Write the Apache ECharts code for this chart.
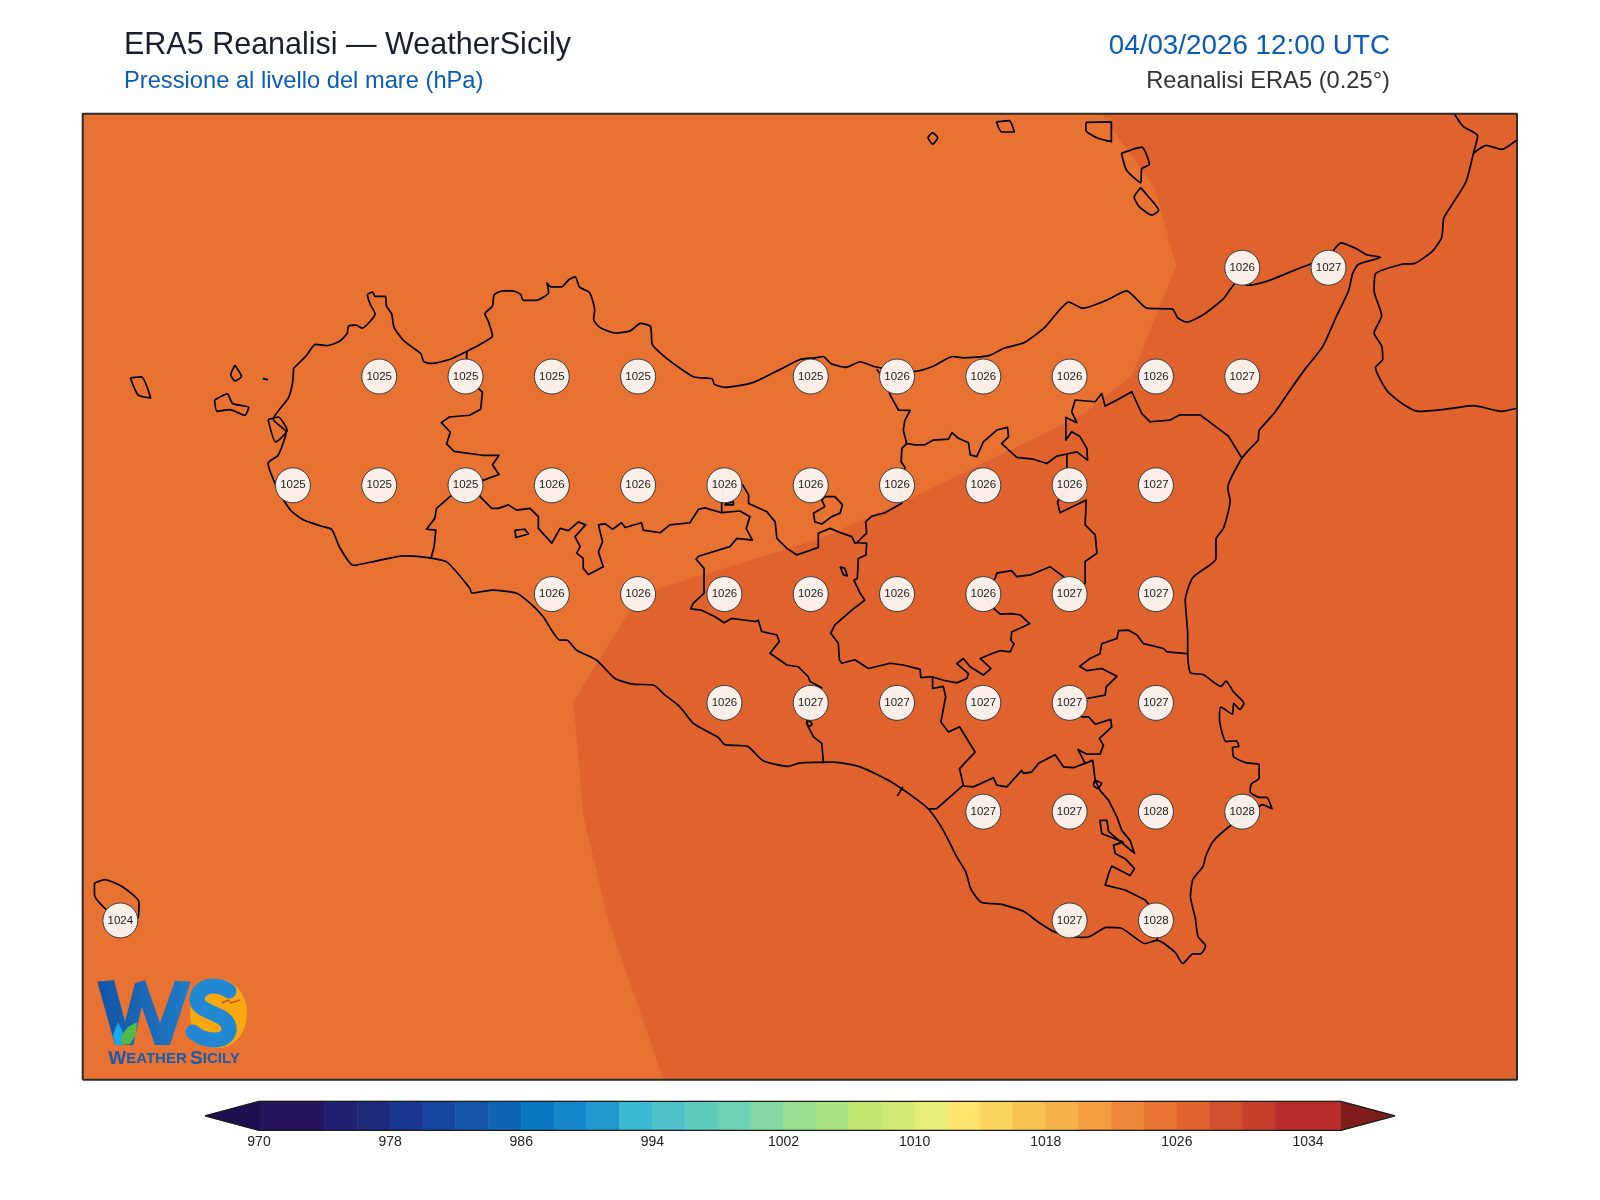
<!DOCTYPE html>
<html>
<head>
<meta charset="utf-8">
<title>ERA5 Reanalisi</title>
<script src="https://cdn.jsdelivr.net/npm/echarts@6/dist/echarts.min.js"></script>
<style>
  html, body { margin: 0; background: #fff; }
  #chart { width: 1600px; height: 1200px; }
</style>
</head>
<body>
<div id="chart"></div>
<script>
// map window, degrees
const lonMin = 11.891, lonMax = 16.046, latMin = 36.384, latMax = 38.604

// grid point labels (0.25 deg), row by row
const stationLon = [
  15.25, 15.5,
  12.75, 13, 13.25, 13.5, 14, 14.25, 14.5, 14.75, 15, 15.25,
  12.5, 12.75, 13, 13.25, 13.5, 13.75, 14, 14.25, 14.5, 14.75, 15,
  13.25, 13.5, 13.75, 14, 14.25, 14.5, 14.75, 15,
  13.75, 14, 14.25, 14.5, 14.75, 15,
  14.5, 14.75, 15, 15.25,
  12, 14.75, 15
]
const stationLat = [
  38.25, 38.25,
  38, 38, 38, 38, 38, 38, 38, 38, 38, 38,
  37.75, 37.75, 37.75, 37.75, 37.75, 37.75, 37.75, 37.75, 37.75, 37.75, 37.75,
  37.5, 37.5, 37.5, 37.5, 37.5, 37.5, 37.5, 37.5,
  37.25, 37.25, 37.25, 37.25, 37.25, 37.25,
  37, 37, 37, 37,
  36.75, 36.75, 36.75
]
const stationHpa = [
  1026, 1027,
  1025, 1025, 1025, 1025, 1025, 1026, 1026, 1026, 1026, 1027,
  1025, 1025, 1025, 1026, 1026, 1026, 1026, 1026, 1026, 1026, 1027,
  1026, 1026, 1026, 1026, 1026, 1026, 1027, 1027,
  1026, 1027, 1027, 1027, 1027, 1027,
  1027, 1027, 1028, 1028,
  1024, 1027, 1028
]

// colorbar
const colorLevels = [970, 974, 976, 978, 980, 982, 984, 986, 988, 990, 992, 994, 996, 998, 1000, 1002,
  1004, 1006, 1008, 1010, 1012, 1014, 1016, 1018, 1020, 1022, 1024, 1026, 1028, 1030, 1032, 1036]
const levelColors = ['#25135b', '#201f70', '#1c2a7c', '#18358f', '#1646a0', '#1355ab', '#1064b8', '#0b76c4',
  '#1687cc', '#2398ce', '#3cb9d2', '#4ec1c9', '#5ecbbf', '#6dd2b5', '#82d9a4', '#97df8e', '#a8e37d', '#bee66e',
  '#d3ea72', '#e4ed74', '#fce46c', '#fcd45f', '#f8c353', '#f6b24a', '#f29d40', '#ee873a', '#e87231', '#e0622d',
  '#d2502b', '#c63d2a', '#b92a2a']
const tickValues = [970, 978, 986, 994, 1002, 1010, 1018, 1026, 1034]
const arrowUnder = [[970, 0], [966.705, 0.5], [970, 1]]
const arrowOver = [[1036, 0], [1039.31, 0.5], [1036, 1]]

// filled pressure band boundary, 1024-1026 to 1026-1028
const isobar1026 = [[13.573, 36.384], [13.499, 36.554], [13.411, 36.756], [13.34, 36.994], [13.329, 37.099],
  [13.312, 37.253], [13.472, 37.459], [13.559, 37.513], [14.027, 37.628], [14.278, 37.716], [14.587, 37.835],
  [14.79, 37.915], [14.93, 38.003], [15.058, 38.254], [14.996, 38.433], [14.841, 38.604]]

// sicily coastline, clockwise from Trapani
const sicilyCoast = [[12.502, 38.019], [12.539, 38.048], [12.565, 38.074], [12.598, 38.071], [12.635, 38.081],
  [12.657, 38.099], [12.661, 38.116], [12.682, 38.118], [12.701, 38.111], [12.724, 38.127], [12.738, 38.144],
  [12.724, 38.166], [12.716, 38.188], [12.731, 38.194], [12.738, 38.184], [12.768, 38.184], [12.771, 38.162],
  [12.786, 38.144], [12.793, 38.113], [12.82, 38.083], [12.857, 38.061], [12.871, 38.052], [12.879, 38.034],
  [12.901, 38.03], [12.953, 38.039], [13.004, 38.058], [13.049, 38.077], [13.078, 38.093], [13.066, 38.127],
  [13.056, 38.144], [13.078, 38.162], [13.083, 38.188], [13.108, 38.197], [13.137, 38.197], [13.16, 38.188],
  [13.167, 38.175], [13.204, 38.175], [13.241, 38.193], [13.236, 38.215], [13.248, 38.206], [13.278, 38.206],
  [13.3, 38.223], [13.318, 38.229], [13.33, 38.206], [13.359, 38.193], [13.374, 38.153], [13.371, 38.131],
  [13.389, 38.113], [13.433, 38.1], [13.477, 38.105], [13.507, 38.122], [13.536, 38.115], [13.541, 38.074],
  [13.573, 38.048], [13.618, 38.021], [13.662, 37.999], [13.714, 37.995], [13.721, 37.982], [13.751, 37.975],
  [13.832, 37.986], [13.913, 38.017], [13.969, 38.039], [14.013, 38.043], [14.036, 38.046], [14.058, 38.03],
  [14.102, 38.021], [14.143, 38.034], [14.183, 38.023], [14.25, 38.014], [14.302, 38.012], [14.353, 38.023],
  [14.412, 38.046], [14.442, 38.043], [14.516, 38.048], [14.56, 38.065], [14.619, 38.078], [14.678, 38.113],
  [14.748, 38.171], [14.789, 38.157], [14.856, 38.175], [14.915, 38.197], [14.974, 38.157], [15.048, 38.155],
  [15.063, 38.135], [15.089, 38.125], [15.137, 38.142], [15.196, 38.179], [15.233, 38.215], [15.27, 38.21],
  [15.329, 38.221], [15.403, 38.245], [15.499, 38.276], [15.536, 38.307], [15.58, 38.294], [15.61, 38.28],
  [15.651, 38.274], [15.587, 38.258], [15.57, 38.237], [15.558, 38.197], [15.521, 38.135], [15.484, 38.07],
  [15.432, 38.017], [15.388, 37.968], [15.343, 37.916], [15.299, 37.876], [15.296, 37.854], [15.27, 37.832],
  [15.247, 37.81], [15.208, 37.744], [15.215, 37.714], [15.196, 37.652], [15.174, 37.626], [15.174, 37.582],
  [15.107, 37.538], [15.085, 37.486], [15.092, 37.407], [15.092, 37.363], [15.1, 37.319], [15.137, 37.315],
  [15.188, 37.288], [15.203, 37.3], [15.225, 37.275], [15.255, 37.249], [15.243, 37.235], [15.225, 37.249],
  [15.222, 37.224], [15.188, 37.24], [15.184, 37.214], [15.203, 37.161], [15.233, 37.163], [15.24, 37.15],
  [15.222, 37.148], [15.225, 37.126], [15.262, 37.112], [15.299, 37.108], [15.299, 37.077], [15.277, 37.064],
  [15.273, 37.046], [15.299, 37.033], [15.321, 37.033], [15.336, 37.007], [15.307, 37.016], [15.284, 36.998],
  [15.249, 36.985], [15.208, 36.963], [15.166, 36.932], [15.144, 36.897], [15.137, 36.875], [15.107, 36.844],
  [15.1, 36.805], [15.114, 36.756], [15.122, 36.713], [15.144, 36.691], [15.129, 36.673], [15.107, 36.673],
  [15.078, 36.651], [15.055, 36.677], [15.004, 36.704], [14.967, 36.697], [14.937, 36.712], [14.9, 36.732],
  [14.856, 36.734], [14.826, 36.721], [14.804, 36.712], [14.782, 36.711], [14.708, 36.723], [14.656, 36.748],
  [14.619, 36.77], [14.553, 36.787], [14.494, 36.792], [14.464, 36.822], [14.449, 36.862], [14.423, 36.896],
  [14.384, 36.957], [14.341, 37.006], [14.297, 37.034], [14.225, 37.072], [14.143, 37.103], [14.066, 37.114],
  [13.969, 37.112], [13.935, 37.104], [13.862, 37.117], [13.817, 37.15], [13.751, 37.154], [13.733, 37.17],
  [13.66, 37.203], [13.621, 37.241], [13.578, 37.268], [13.544, 37.291], [13.486, 37.293], [13.433, 37.306],
  [13.38, 37.348], [13.322, 37.371], [13.293, 37.394], [13.274, 37.394], [13.225, 37.448], [13.187, 37.479],
  [13.148, 37.502], [13.076, 37.509], [13.018, 37.502], [13.013, 37.513], [12.945, 37.574], [12.868, 37.586],
  [12.82, 37.588], [12.746, 37.577], [12.675, 37.566], [12.635, 37.608], [12.613, 37.648],
  [12.583, 37.656], [12.531, 37.67], [12.494, 37.692], [12.462, 37.731], [12.428, 37.801], [12.457, 37.819],
  [12.48, 37.872], [12.443, 37.902], [12.487, 37.951], [12.499, 37.986], [12.502, 38.019]]

// calabria
const calabriaCoast = [[15.864, 38.604], [15.89, 38.575], [15.932, 38.553], [15.92, 38.513], [15.898, 38.447],
  [15.861, 38.399], [15.834, 38.364], [15.828, 38.32], [15.802, 38.289], [15.75, 38.26], [15.713, 38.258],
  [15.636, 38.236], [15.632, 38.197], [15.654, 38.14], [15.632, 38.1], [15.654, 38.07], [15.657, 38.039],
  [15.636, 38.021], [15.669, 37.968], [15.713, 37.938], [15.76, 37.92], [15.831, 37.924], [15.92, 37.933],
  [16.001, 37.92], [16.046, 37.927]]
const calabriaBorder = [[15.92, 38.513], [15.957, 38.531], [16.001, 38.522], [16.046, 38.544]]

// islands
const marettimo = [[12.029, 37.997], [12.061, 37.999], [12.088, 37.951], [12.051, 37.958], [12.029, 37.997]]
const favignana = [[12.273, 37.946], [12.31, 37.96], [12.325, 37.938], [12.372, 37.929], [12.361, 37.911],
  [12.317, 37.924], [12.28, 37.92], [12.273, 37.946]]
const levanzo = [[12.332, 38.026], [12.351, 38], [12.332, 37.99], [12.32, 38.004], [12.332, 38.026]]
const formica = [[12.413, 37.995], [12.428, 37.993]]
const stagnone = [[12.428, 37.901], [12.457, 37.907], [12.483, 37.876], [12.45, 37.85], [12.428, 37.901]]
const pantelleria = [[11.925, 36.836], [11.955, 36.844], [12.007, 36.827], [12.054, 36.792], [12.051, 36.756],
  [12, 36.752], [11.955, 36.778], [11.925, 36.809], [11.925, 36.836]]
const ustica = [[14.339, 38.549], [14.353, 38.56], [14.368, 38.549], [14.353, 38.534], [14.339, 38.549]]
const alicudi = [[14.538, 38.585], [14.575, 38.588], [14.59, 38.562], [14.553, 38.562], [14.538, 38.585]]
const filicudi = [[14.797, 38.584], [14.871, 38.585], [14.871, 38.54], [14.834, 38.547], [14.797, 38.566],
  [14.797, 38.584]]
const lipari = [[14.9, 38.513], [14.959, 38.527], [14.981, 38.487], [14.959, 38.478], [14.956, 38.445],
  [14.915, 38.474], [14.9, 38.513]]
const vulcano = [[14.956, 38.434], [14.974, 38.417], [15.008, 38.382], [14.989, 38.371], [14.952, 38.39],
  [14.937, 38.412], [14.956, 38.434]]

// province borders
const borderTrapani = [[13.004, 38.058], [13, 38], [13.049, 37.964], [13.044, 37.925], [13.012, 37.911],
  [12.953, 37.907], [12.93, 37.894], [12.956, 37.872], [12.945, 37.845], [12.967, 37.828], [13.049, 37.819],
  [13.097, 37.819], [13.078, 37.797], [13.097, 37.775], [13.052, 37.762], [13, 37.751], [12.955, 37.724],
  [12.916, 37.697], [12.911, 37.674], [12.887, 37.649], [12.914, 37.647], [12.909, 37.609], [12.9, 37.582]]
const borderAgrigento = [[13.03, 37.755], [13.042, 37.724], [13.076, 37.697], [13.095, 37.697], [13.124, 37.705], [13.148, 37.693],
  [13.187, 37.697], [13.211, 37.678], [13.211, 37.651], [13.25, 37.617], [13.274, 37.651], [13.298, 37.646],
  [13.327, 37.666], [13.348, 37.659], [13.317, 37.632], [13.332, 37.609], [13.322, 37.594], [13.341, 37.582],
  [13.341, 37.559], [13.356, 37.545], [13.399, 37.563], [13.385, 37.597], [13.397, 37.62], [13.385, 37.659],
  [13.404, 37.662], [13.426, 37.649], [13.452, 37.664], [13.462, 37.653], [13.51, 37.664], [13.515, 37.647],
  [13.564, 37.641], [13.592, 37.659], [13.65, 37.664], [13.675, 37.695], [13.694, 37.698], [13.742, 37.687],
  [13.795, 37.691], [13.824, 37.678], [13.813, 37.651], [13.831, 37.624], [13.786, 37.628], [13.766, 37.609],
  [13.675, 37.587], [13.668, 37.58], [13.691, 37.559], [13.691, 37.502], [13.66, 37.479], [13.652, 37.466],
  [13.684, 37.463], [13.723, 37.448], [13.749, 37.434], [13.771, 37.444], [13.839, 37.437], [13.848, 37.44],
  [13.858, 37.414], [13.902, 37.406], [13.909, 37.391], [13.882, 37.364], [13.931, 37.337], [13.964, 37.333],
  [13.993, 37.31], [13.998, 37.299], [14.032, 37.285], [14.003, 37.25], [13.988, 37.203], [14.008, 37.172],
  [14.032, 37.157], [14.037, 37.111]]
const borderPalermoStub = [[13.742, 37.687], [13.742, 37.708], [13.747, 37.751]]
const borderStubLoop = [[13.752, 37.708], [13.776, 37.712], [13.776, 37.705], [13.752, 37.705], [13.752, 37.708]]
const borderCaltanissetta = [[13.747, 37.751], [13.803, 37.751], [13.82, 37.728], [13.82, 37.708], [13.873, 37.689],
  [13.897, 37.666], [13.902, 37.628], [13.931, 37.605], [13.96, 37.59], [14.022, 37.607], [14.022, 37.617],
  [14.022, 37.64], [14.056, 37.651], [14.09, 37.64], [14.119, 37.632], [14.128, 37.617], [14.133, 37.618]]
const borderMessinaWest = [[14.191, 38.017], [14.22, 37.985], [14.23, 37.958], [14.254, 37.923], [14.288, 37.922],
  [14.273, 37.9], [14.268, 37.877], [14.278, 37.846]]
const borderEnna = [[14.278, 37.846], [14.264, 37.835], [14.262, 37.804], [14.273, 37.791], [14.259, 37.739],
  [14.264, 37.709], [14.215, 37.687], [14.177, 37.679], [14.159, 37.666], [14.162, 37.64], [14.133, 37.618],
  [14.162, 37.617], [14.16, 37.59], [14.138, 37.582], [14.135, 37.536], [14.125, 37.532], [14.143, 37.502],
  [14.157, 37.486], [14.119, 37.463], [14.07, 37.429], [14.058, 37.41], [14.08, 37.387], [14.083, 37.349],
  [14.09, 37.341], [14.128, 37.349], [14.167, 37.329], [14.23, 37.341], [14.268, 37.337], [14.317, 37.327],
  [14.319, 37.308], [14.351, 37.31], [14.384, 37.302], [14.423, 37.296], [14.452, 37.306], [14.457, 37.317],
  [14.423, 37.34], [14.442, 37.352], [14.462, 37.333], [14.5, 37.314], [14.522, 37.329], [14.491, 37.352],
  [14.524, 37.363], [14.549, 37.37], [14.578, 37.367], [14.589, 37.386], [14.58, 37.394], [14.582, 37.413],
  [14.634, 37.432], [14.607, 37.452], [14.582, 37.455], [14.549, 37.454], [14.527, 37.469], [14.498, 37.502],
  [14.534, 37.536], [14.539, 37.548], [14.582, 37.554], [14.597, 37.54], [14.636, 37.544], [14.693, 37.563],
  [14.732, 37.54], [14.75, 37.502], [14.795, 37.525], [14.795, 37.575], [14.829, 37.594], [14.824, 37.636],
  [14.795, 37.659], [14.798, 37.716], [14.722, 37.687], [14.715, 37.712], [14.75, 37.751], [14.742, 37.791],
  [14.742, 37.822]]
const borderMessinaSouth = [[14.278, 37.846], [14.302, 37.843], [14.331, 37.843], [14.355, 37.854], [14.399, 37.856],
  [14.409, 37.871], [14.428, 37.858], [14.457, 37.848], [14.462, 37.82], [14.481, 37.816], [14.5, 37.85],
  [14.539, 37.877], [14.57, 37.883], [14.573, 37.862], [14.553, 37.846], [14.597, 37.814], [14.645, 37.81],
  [14.684, 37.8], [14.713, 37.817], [14.742, 37.822], [14.771, 37.827], [14.802, 37.808], [14.8, 37.835],
  [14.78, 37.862], [14.756, 37.873], [14.739, 37.854], [14.739, 37.906], [14.771, 37.894], [14.756, 37.919],
  [14.766, 37.946], [14.824, 37.942], [14.843, 37.961], [14.853, 37.932], [14.887, 37.946], [14.93, 37.965],
  [14.959, 37.915], [14.983, 37.896], [15.041, 37.9], [15.07, 37.912], [15.128, 37.912], [15.21, 37.863],
  [15.247, 37.815]]
const borderGela = [[14.353, 37.308], [14.353, 37.283], [14.384, 37.288], [14.391, 37.264], [14.377, 37.206],
  [14.399, 37.183], [14.431, 37.195], [14.476, 37.137], [14.431, 37.099], [14.442, 37.061], [14.365, 37.007],
  [14.341, 37.006]]
const borderRagusa = [[14.442, 37.059], [14.471, 37.057], [14.529, 37.078], [14.539, 37.061], [14.568, 37.057],
  [14.611, 37.095], [14.616, 37.088], [14.64, 37.091], [14.66, 37.111], [14.708, 37.131], [14.732, 37.103],
  [14.761, 37.101], [14.795, 37.111], [14.774, 37.143], [14.8, 37.132], [14.838, 37.132], [14.848, 37.153],
  [14.836, 37.168], [14.872, 37.195], [14.869, 37.212], [14.824, 37.201], [14.805, 37.218], [14.785, 37.218],
  [14.75, 37.25], [14.8, 37.26], [14.853, 37.268], [14.856, 37.287], [14.887, 37.311], [14.843, 37.329],
  [14.8, 37.324], [14.779, 37.334], [14.809, 37.352], [14.838, 37.363], [14.843, 37.386], [14.887, 37.398],
  [14.892, 37.416], [14.921, 37.417], [14.945, 37.406], [14.964, 37.386], [15.022, 37.375], [15.032, 37.367],
  [15.09, 37.363]]
const borderSiracusa = [[14.795, 37.111], [14.817, 37.118], [14.824, 37.072], [14.838, 37.049], [14.863, 37.026],
  [14.887, 36.988], [14.901, 36.957], [14.925, 36.934], [14.938, 36.904], [14.863, 36.954], [14.858, 36.98],
  [14.838, 36.98], [14.843, 36.95], [14.905, 36.93], [14.877, 36.923], [14.882, 36.904], [14.911, 36.892],
  [14.938, 36.869], [14.925, 36.853], [14.872, 36.875], [14.863, 36.858], [14.853, 36.831], [14.911, 36.82],
  [14.969, 36.797], [14.979, 36.787], [14.999, 36.752], [15.004, 36.704]]
const riverMouth = [[14.251, 37.036], [14.267, 37.057]]
const lakeArancio = [[13.143, 37.647], [13.172, 37.649], [13.182, 37.638], [13.146, 37.63], [13.143, 37.647]]
const lakeNicoletti = [[14.085, 37.563], [14.099, 37.559], [14.106, 37.542], [14.095, 37.544], [14.085, 37.563]]
const enclave = [[14.041, 37.724], [14.07, 37.724], [14.092, 37.705], [14.085, 37.686], [14.061, 37.678],
  [14.032, 37.661], [14.012, 37.666], [14.008, 37.686], [14.041, 37.701], [14.032, 37.716], [14.041, 37.724]]
const lakeLentini = [[14.824, 37.072], [14.819, 37.061], [14.831, 37.053], [14.843, 37.065], [14.824, 37.072]]
const lakeSouth = [[13.988, 37.204], [13.996, 37.209], [14.004, 37.201], [13.996, 37.196], [13.988, 37.204]]

const coastOutlines = [sicilyCoast, calabriaCoast, calabriaBorder, marettimo, favignana, levanzo, formica, stagnone,
  pantelleria, ustica, alicudi, filicudi, lipari, vulcano, lakeLentini, lakeSouth]
const borderOutlines = [borderTrapani, borderAgrigento, borderPalermoStub, borderStubLoop, borderCaltanissetta,
  borderMessinaWest, borderEnna, borderMessinaSouth, borderGela, borderRagusa, borderSiracusa, riverMouth,
  lakeArancio, lakeNicoletti, enclave]

const colorFor = (hpa) => levelColors[colorLevels.findIndex((lev, i) => hpa >= lev && hpa < colorLevels[i + 1])]

// the two filled bands seen in this window
const bandPolygons = [
  { hpa: 1025, points: [[lonMin, latMin], ...isobar1026, [lonMin, latMax]] },
  { hpa: 1027, points: [...isobar1026, [lonMax, latMax], [lonMax, latMin]] }
]

const chart = echarts.init(document.getElementById('chart'))

const polygonItem = (api, points, fill) => ({
  type: 'polygon',
  shape: { points: points.map((p) => api.coord(p)) },
  style: { fill: fill, stroke: fill, lineWidth: 0.5 }
})

const outlineSeries = (pts, smooth) => ({
  type: 'line', xAxisIndex: 0, yAxisIndex: 0, z: 2, silent: true, showSymbol: false, clip: true,
  smooth: smooth, data: pts, lineStyle: { color: '#000', width: 1.7, join: 'round' }
})

const titleFont = 'Liberation Sans'
const sStroke = { fill: 'none', stroke: '#2388d3', lineWidth: 15, lineCap: 'round' }
const logoGraphic = [
  { type: 'ellipse', z: 50, shape: { cx: 218.5, cy: 1013.5, rx: 28.5, ry: 34.5 }, style: { fill: '#f9a90f' } },
  {
    type: 'polygon', z: 51,
    shape: { points: [[97.3, 981.7], [114, 980], [125, 1021.7], [135, 983.3], [145, 980], [160, 1023], [175, 980.7],
      [190.7, 981.7], [170, 1045], [155, 1045], [141.7, 1006.7], [133.3, 1045], [115, 1045]] },
    style: { fill: new echarts.graphic.LinearGradient(0, 0, 1, 0, [
      { offset: 0, color: '#1353a6' }, { offset: 1, color: '#1f7cc6' }]) }
  },
  { type: 'bezierCurve', z: 52, shape: { x1: 229, y1: 991, cpx1: 218, cpy1: 983, cpx2: 199, cpy2: 984, x2: 197, y2: 999 }, style: sStroke },
  { type: 'bezierCurve', z: 52, shape: { x1: 197, y1: 999, cpx1: 196, cpy1: 1014, cpx2: 231, cpy2: 1012, x2: 229, y2: 1030 }, style: sStroke },
  { type: 'bezierCurve', z: 52, shape: { x1: 229, y1: 1030, cpx1: 227, cpy1: 1045, cpx2: 203, cpy2: 1041, x2: 193, y2: 1032 }, style: sStroke },
  { type: 'polygon', z: 53, shape: { points: [[118, 1022], [124, 1035], [123, 1045], [115, 1045], [113, 1035]] }, style: { fill: '#15aaf0' } },
  { type: 'polygon', z: 54, shape: { points: [[137, 1022], [128, 1027], [121, 1036], [122, 1045], [130, 1044], [136, 1035]] }, style: { fill: '#52b84a' } },
  { type: 'polyline', z: 54, shape: { points: [[222, 1003], [228, 1000], [231, 1003], [240, 1000]] }, style: { fill: 'none', stroke: '#c9501f', lineWidth: 1.4 } },
  {
    type: 'text', z: 55, x: 174, y: 1059,
    style: {
      text: '{a|W}{b|EATHER} {a|S}{b|ICILY}',
      align: 'center', verticalAlign: 'middle',
      rich: {
        a: { fontFamily: titleFont, fontWeight: 'bold', fontSize: 19, fill: '#1a5cab' },
        b: { fontFamily: titleFont, fontWeight: 'bold', fontSize: 15, fill: '#1a5cab' }
      }
    }
  }
]

const option = {
  animation: false,
  backgroundColor: '#fff',
  textStyle: { fontFamily: titleFont },
  title: [
    { text: 'ERA5 Reanalisi — WeatherSicily', left: 120, top: 30, padding: [0, 0, 0, 4], textStyle: { fontSize: 30.5, fontWeight: 'normal', color: '#1a1f2e', fontFamily: titleFont } },
    { text: 'Pressione al livello del mare (hPa)', left: 120, top: 69, padding: [0, 0, 0, 4], textStyle: { fontSize: 23.7, fontWeight: 'normal', color: '#0a5cb8', fontFamily: titleFont } },
    { text: '04/03/2026 12:00 UTC', right: 210, top: 32, padding: 0, textStyle: { fontSize: 27.8, fontWeight: 'normal', color: '#0a5cb8', fontFamily: titleFont } },
    { text: 'Reanalisi ERA5 (0.25°)', right: 210, top: 69, padding: 0, textStyle: { fontSize: 23.7, fontWeight: 'normal', color: '#333', fontFamily: titleFont } }
  ],
  grid: [
    { left: 82.7, top: 113.7, width: 1434.3, height: 966 },
    { left: 205, top: 1101.3, width: 1190, height: 29.1 }
  ],
  xAxis: [
    { type: 'value', gridIndex: 0, min: lonMin, max: lonMax, show: false },
    {
      type: 'value', gridIndex: 1, min: 966.705, max: 1039.31,
      axisLine: { show: false }, axisTick: { show: false }, splitLine: { show: false },
      axisLabel: { customValues: tickValues, formatter: (v) => String(v), margin: 5, fontSize: 14, color: '#222', fontFamily: titleFont }
    }
  ],
  yAxis: [
    { type: 'value', gridIndex: 0, min: latMin, max: latMax, show: false },
    { type: 'value', gridIndex: 1, min: 0, max: 1, show: false }
  ],
  series: [
    {
      type: 'custom', xAxisIndex: 0, yAxisIndex: 0, z: 1, silent: true, clip: true,
      data: bandPolygons.map((b) => [b.points[0][0], b.points[0][1]]),
      renderItem: (params, api) => polygonItem(api, bandPolygons[params.dataIndex].points, colorFor(bandPolygons[params.dataIndex].hpa))
    },
    ...coastOutlines.map((pts) => outlineSeries(pts, 0.2)),
    ...borderOutlines.map((pts) => outlineSeries(pts, false)),
    {
      type: 'line', xAxisIndex: 0, yAxisIndex: 0, z: 5, silent: true, showSymbol: false, clip: false,
      data: [[lonMin, latMin], [lonMax, latMin], [lonMax, latMax], [lonMin, latMax], [lonMin, latMin]],
      lineStyle: { color: '#2b2b2b', width: 2 }
    },
    {
      type: 'scatter', xAxisIndex: 0, yAxisIndex: 0, z: 3, silent: true,
      symbol: 'circle', symbolSize: 35,
      data: stationHpa.map((v, i) => [stationLon[i], stationLat[i], v]),
      itemStyle: { color: 'rgba(251,246,242,0.95)', borderColor: '#3a3a3a', borderWidth: 1, opacity: 1 },
      label: {
        show: true, position: 'inside', formatter: (p) => String(p.value[2]),
        fontSize: 11.5, color: '#1c1c1c', fontFamily: titleFont
      }
    },
    {
      type: 'custom', xAxisIndex: 1, yAxisIndex: 1, z: 1, silent: true, clip: false,
      data: levelColors.map((c, i) => [colorLevels[i], colorLevels[i + 1]]),
      renderItem: (params, api) => {
        const a = api.coord([api.value(0), 1])
        const b = api.coord([api.value(1), 0])
        const fill = levelColors[params.dataIndex]
        return { type: 'rect', shape: { x: a[0], y: a[1], width: b[0] - a[0], height: b[1] - a[1] }, style: { fill: fill, stroke: fill, lineWidth: 0.6 } }
      }
    },
    {
      type: 'custom', xAxisIndex: 1, yAxisIndex: 1, z: 1, silent: true, clip: false,
      data: [[970, 0], [1036, 0]],
      renderItem: (params, api) => params.dataIndex === 0
        ? polygonItem(api, arrowUnder, '#1e0f50')
        : polygonItem(api, arrowOver, '#7f1c1c')
    },
    {
      type: 'line', xAxisIndex: 1, yAxisIndex: 1, z: 2, silent: true, showSymbol: false, clip: false,
      data: [[970, 1], [1036, 1], [1039.31, 0.5], [1036, 0], [970, 0], [966.705, 0.5], [970, 1]],
      lineStyle: { color: '#1d1d1d', width: 1.2 }
    }
  ],
  graphic: { elements: logoGraphic }
}

chart.setOption(option)
</script>
</body>
</html>
